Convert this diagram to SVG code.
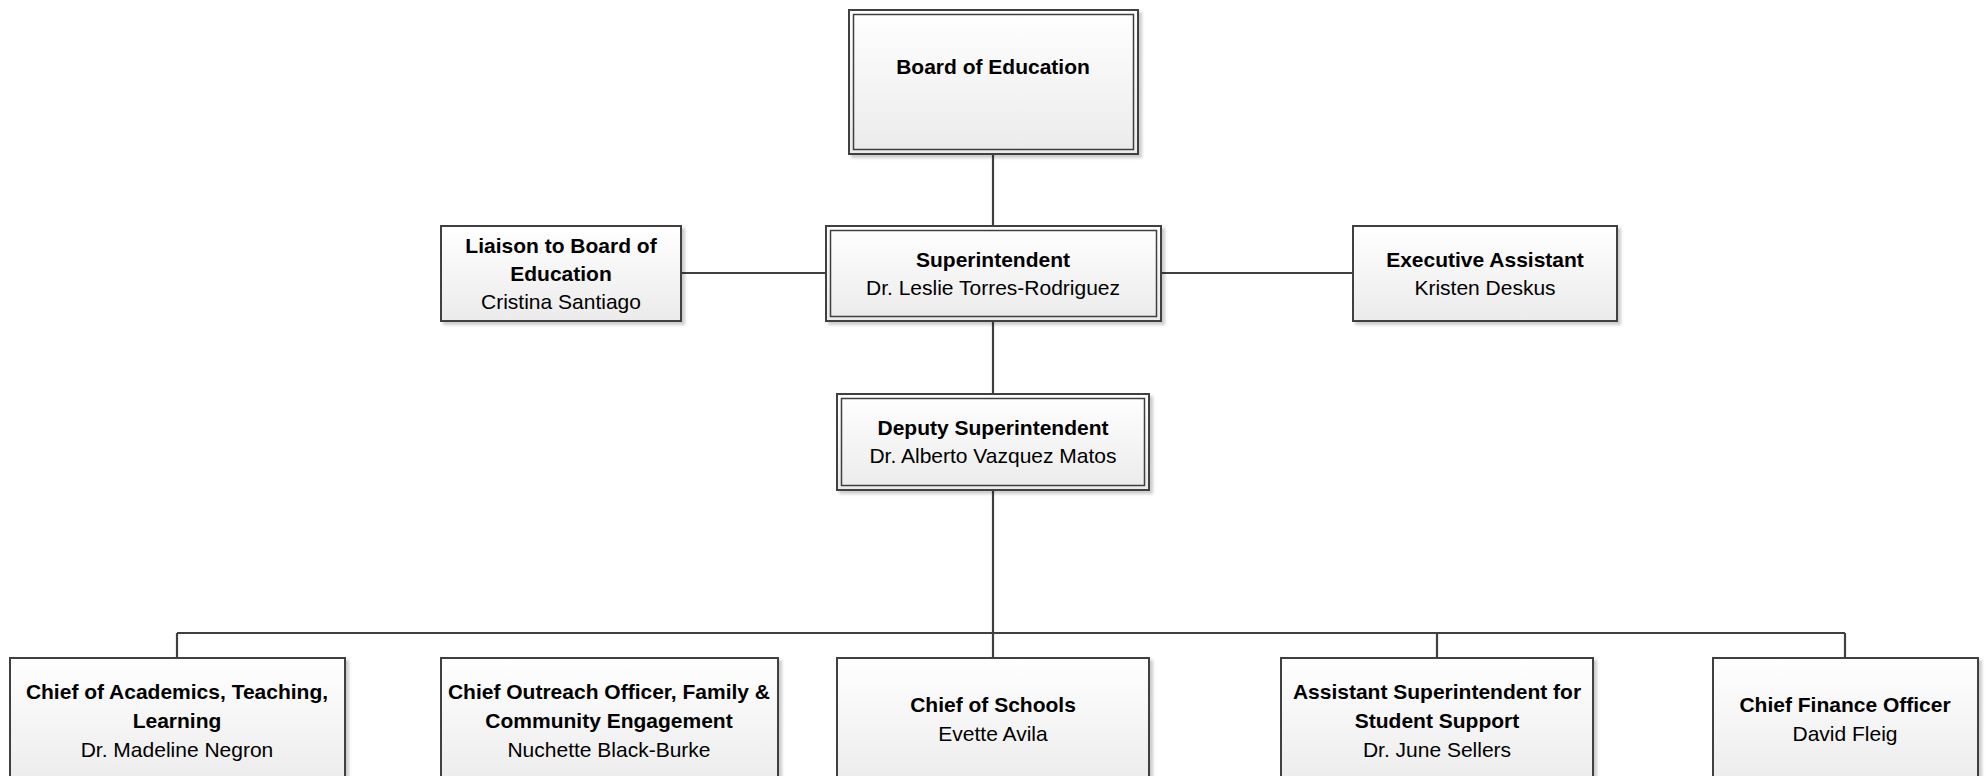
<svg xmlns="http://www.w3.org/2000/svg" width="1986" height="776" viewBox="0 0 1986 776">
<style>
.box{fill:url(#g);stroke:#3f3f3f;stroke-width:2;filter:url(#sh)}
.inner{fill:none;stroke:#3f3f3f;stroke-width:1.5}
.conn{fill:none;stroke:#404040;stroke-width:2.2}
text{font-family:"Liberation Sans",Arial,sans-serif;font-size:21px;fill:#000;text-anchor:middle}
.t{font-weight:bold}
</style>
<defs>
<linearGradient id="g" x1="0" y1="0" x2="0" y2="1">
<stop offset="0" stop-color="#ffffff"/>
<stop offset="1" stop-color="#ebebeb"/>
</linearGradient>
<filter id="sh" x="-5%" y="-5%" width="115%" height="120%">
<feDropShadow dx="3" dy="3" stdDeviation="1.5" flood-color="#000" flood-opacity="0.2"/>
</filter>
</defs>
<rect width="1986" height="776" fill="#fff"/>
<g id="connectors">
<path class="conn" d="M993 154V226"/>
<path class="conn" d="M681 273H826"/>
<path class="conn" d="M1161 273H1353"/>
<path class="conn" d="M993 321V394"/>
<path class="conn" d="M993 490V658"/>
<path class="conn" d="M177 633H1845"/>
<path class="conn" d="M177 633V658"/>
<path class="conn" d="M1437 633V658"/>
<path class="conn" d="M1845 633V658"/>
</g>
<g id="board">
<rect class="box" x="849" y="10" width="289" height="144"/>
<rect class="inner" x="853.5" y="14.5" width="280" height="135"/>
<text class="t" x="993" y="74">Board of Education</text>
</g>
<g id="liaison">
<rect class="box" x="441" y="226" width="240" height="95"/>
<text class="t" x="561" y="252.5">Liaison to Board of</text>
<text class="t" x="561" y="280.5">Education</text>
<text x="561" y="308.5">Cristina Santiago</text>
</g>
<g id="superintendent">
<rect class="box" x="826" y="226" width="335" height="95"/>
<rect class="inner" x="830.5" y="230.5" width="326" height="86"/>
<text class="t" x="993" y="266.5">Superintendent</text>
<text x="993" y="294.5">Dr. Leslie Torres-Rodriguez</text>
</g>
<g id="executive-assistant">
<rect class="box" x="1353" y="226" width="264" height="95"/>
<text class="t" x="1485" y="266.5">Executive Assistant</text>
<text x="1485" y="294.5">Kristen Deskus</text>
</g>
<g id="deputy">
<rect class="box" x="837" y="394" width="312" height="96"/>
<rect class="inner" x="841.5" y="398.5" width="303" height="87"/>
<text class="t" x="993" y="434.5">Deputy Superintendent</text>
<text x="993" y="462.5">Dr. Alberto Vazquez Matos</text>
</g>
<g id="academics">
<rect class="box" x="10" y="658" width="335" height="130"/>
<text class="t" x="177" y="699">Chief of Academics, Teaching,</text>
<text class="t" x="177" y="728">Learning</text>
<text x="177" y="757">Dr. Madeline Negron</text>
</g>
<g id="outreach">
<rect class="box" x="441" y="658" width="337" height="130"/>
<text class="t" x="609" y="699">Chief Outreach Officer, Family &amp;</text>
<text class="t" x="609" y="728">Community Engagement</text>
<text x="609" y="757">Nuchette Black-Burke</text>
</g>
<g id="schools">
<rect class="box" x="837" y="658" width="312" height="130"/>
<text class="t" x="993" y="712">Chief of Schools</text>
<text x="993" y="740.5">Evette Avila</text>
</g>
<g id="student-support">
<rect class="box" x="1281" y="658" width="312" height="130"/>
<text class="t" x="1437" y="699">Assistant Superintendent for</text>
<text class="t" x="1437" y="728">Student Support</text>
<text x="1437" y="757">Dr. June Sellers</text>
</g>
<g id="finance">
<rect class="box" x="1713" y="658" width="265" height="130"/>
<text class="t" x="1845" y="712">Chief Finance Officer</text>
<text x="1845" y="740.5">David Fleig</text>
</g>
</svg>
